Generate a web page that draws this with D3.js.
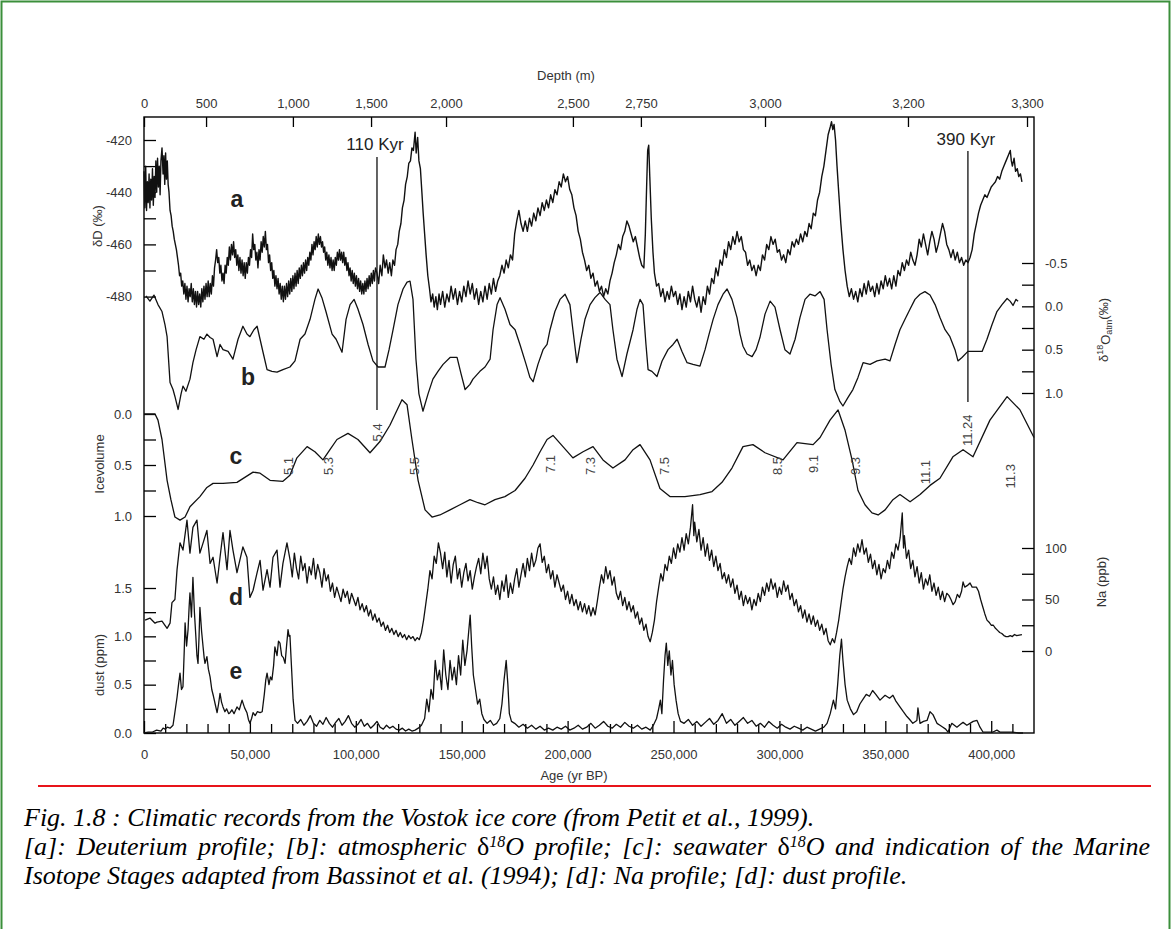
<!DOCTYPE html>
<html><head><meta charset="utf-8">
<script src="https://cdn.jsdelivr.net/npm/d3@7"></script>
<style>html,body{margin:0;padding:0;background:#fff}svg{display:block}</style>
</head><body>
<svg id="c" width="1172" height="929"></svg>
<script>
// ---------------- DATA (ages in kyr BP) ----------------
const deuterium = [[0,-432],[0.4,-446],[0.8,-430],[1.2,-447],[1.6,-436],[2,-444],[2.4,-433],[2.8,-446],[3.2,-435],[3.6,-443],[4,-431],[4.4,-445],[4.8,-434],[5.2,-442],[5.6,-428],[6,-440],[6.4,-427],[6.8,-438],[7.2,-430],[7.6,-441],[8,-428],[8.5,-423],[9,-433],[9.4,-426],[9.8,-437],[10.2,-425],[10.6,-435],[11,-428],[11.4,-437],[11.8,-440],[12.3,-447],[12.8,-449],[13.3,-453],[13.8,-455],[14.3,-458],[14.8,-460],[15.3,-462],[15.8,-465],[16.3,-468],[16.8,-472],[17.3,-471],[17.8,-476],[18.3,-474],[18.8,-479],[19.3,-475],[19.8,-481],[20.3,-476],[20.8,-482],[21.3,-477],[21.8,-480],[22.3,-475],[22.8,-482],[23.3,-477],[23.8,-483],[24.3,-478],[24.8,-484],[25.3,-478],[25.8,-483],[26.3,-479],[26.8,-484],[27.3,-477],[27.8,-482],[28.3,-476],[28.8,-481],[29.3,-475],[29.8,-480],[30.3,-474],[30.8,-480],[31.3,-475],[31.8,-479],[32.3,-472],[32.8,-476],[33.3,-469],[33.8,-466],[34.3,-462],[34.8,-467],[35.3,-465],[35.8,-471],[36.3,-468],[36.8,-474],[37.3,-471],[37.8,-475],[38.3,-468],[38.8,-471],[39.3,-465],[39.8,-468],[40.3,-461],[40.8,-466],[41.3,-460],[41.8,-464],[42.3,-459],[42.8,-465],[43.3,-462],[43.8,-468],[44.3,-464],[44.8,-470],[45.3,-465],[45.8,-471],[46.3,-466],[46.8,-472],[47.3,-467],[47.8,-473],[48.3,-467],[48.8,-471],[49.3,-465],[49.8,-468],[50.3,-462],[50.8,-465],[51.3,-456],[51.8,-462],[52.3,-460],[52.8,-466],[53.3,-463],[53.8,-469],[54.3,-462],[54.8,-466],[55.3,-459],[55.8,-463],[56.3,-457],[56.8,-461],[57.3,-455],[57.8,-462],[58.3,-460],[58.8,-467],[59.3,-464],[59.8,-470],[60.3,-467],[60.8,-473],[61.3,-470],[61.8,-476],[62.3,-472],[62.8,-477],[63.3,-473],[63.8,-479],[64.3,-475],[64.8,-481],[65.3,-476],[65.8,-482],[66.3,-476],[66.8,-481],[67.3,-475],[67.8,-480],[68.3,-474],[68.8,-479],[69.3,-473],[69.8,-478],[70.3,-472],[70.8,-477],[71.3,-471],[71.8,-476],[72.3,-470],[72.8,-475],[73.3,-469],[73.8,-473],[74.3,-468],[74.8,-472],[75.3,-467],[75.8,-471],[76.3,-466],[76.8,-470],[77.3,-465],[77.8,-468],[78.3,-463],[78.8,-466],[79.3,-460],[79.8,-464],[80.3,-459],[80.8,-462],[81.3,-457],[81.8,-461],[82.3,-456],[82.8,-460],[83.3,-457],[83.8,-461],[84.3,-459],[84.8,-463],[85.3,-461],[85.8,-466],[86.3,-463],[86.8,-468],[87.3,-464],[87.8,-469],[88.3,-465],[88.8,-470],[89.3,-466],[89.8,-470],[90.3,-465],[90.8,-468],[91.3,-463],[91.8,-466],[92.3,-462],[92.8,-466],[93.3,-463],[93.8,-467],[94.3,-463],[94.8,-468],[95.3,-465],[95.8,-470],[96.3,-467],[96.8,-472],[97.3,-469],[97.8,-474],[98.3,-470],[98.8,-475],[99.3,-471],[99.8,-476],[100.3,-472],[100.8,-477],[101.3,-473],[101.8,-478],[102.3,-474],[102.8,-479],[103.3,-475],[103.8,-479],[104.3,-474],[104.8,-478],[105.3,-473],[105.8,-477],[106.3,-472],[106.8,-476],[107.3,-471],[107.8,-475],[108.3,-470],[108.8,-474],[109.3,-469],[110,-471],[110.8,-475],[111.5,-468],[112.3,-472],[113,-464],[113.8,-469],[114.5,-466],[115.3,-471],[116,-467],[116.8,-472],[117.5,-466],[118.3,-468],[119,-462],[119.8,-460],[120.5,-455],[121.3,-452],[122,-446],[122.8,-443],[123.5,-437],[124.3,-434],[125,-429],[125.8,-428],[126.5,-423],[127.2,-424],[128,-417],[128.5,-425],[129.2,-419],[129.8,-428],[130.5,-431],[131.2,-440],[131.8,-448],[132.5,-456],[133.2,-464],[134,-472],[134.8,-477],[135.5,-482],[136.3,-479],[137,-484],[137.8,-480],[138.5,-485],[139.3,-479],[140,-483],[141,-478],[142,-484],[143,-479],[144,-482],[145,-476],[146,-481],[147,-477],[148,-483],[149,-478],[150,-482],[151,-476],[152,-480],[153,-474],[154,-479],[155,-475],[156,-481],[157,-477],[158,-483],[159,-478],[160,-482],[161,-476],[162,-481],[163,-475],[164,-479],[165,-473],[166,-478],[167,-474],[168,-472],[169,-468],[170,-471],[171,-466],[172,-469],[173,-464],[174,-466],[175,-456],[176,-451],[177,-447],[178,-452],[179,-455],[180,-451],[181,-455],[182,-450],[183,-453],[184,-448],[185,-451],[186,-446],[187,-449],[188,-444],[189,-447],[190,-443],[191,-446],[192,-441],[193,-444],[194,-439],[195,-441],[196,-436],[197,-438],[198,-433],[199,-436],[200,-434],[201,-439],[202,-441],[203,-446],[204,-449],[205,-455],[206,-458],[207,-463],[208,-466],[209,-470],[210,-468],[211,-473],[212,-471],[213,-476],[214,-474],[215,-478],[216,-476],[217,-480],[218,-477],[219,-479],[220,-474],[221,-471],[222,-467],[223,-464],[224,-460],[225,-462],[226,-457],[227,-455],[228,-451],[229,-453],[230,-456],[231,-459],[232,-457],[233,-461],[234,-465],[235,-468],[236,-469],[236.7,-456],[237.3,-438],[237.8,-424],[238.3,-422],[238.8,-434],[239.5,-450],[240.3,-463],[241,-471],[242,-476],[243,-475],[244,-480],[245,-477],[246,-482],[247,-478],[248,-481],[249,-476],[250,-480],[251,-478],[252,-483],[253,-479],[254,-485],[255,-480],[256,-484],[257,-478],[258,-482],[259,-476],[260,-481],[261,-484],[262,-480],[263,-486],[264,-480],[265,-483],[266,-476],[267,-479],[268,-473],[269,-475],[270,-469],[271,-472],[272,-466],[273,-468],[274,-462],[275,-465],[276,-459],[277,-462],[278,-457],[279,-460],[280,-455],[281,-459],[282,-457],[283,-462],[284,-463],[285,-468],[286,-466],[287,-470],[288,-468],[289,-472],[290,-468],[291,-470],[292,-464],[293,-466],[294,-460],[295,-462],[296,-457],[297,-460],[298,-458],[299,-463],[300,-462],[301,-466],[302,-464],[303,-467],[304,-462],[305,-464],[306,-459],[307,-461],[308,-458],[309,-460],[310,-456],[311,-459],[312,-455],[313,-457],[314,-452],[315,-454],[316,-448],[317,-449],[318,-443],[319,-440],[320,-434],[321,-430],[322,-424],[323,-418],[324,-415],[324.6,-413],[325.2,-416],[325.8,-414],[326.5,-420],[327.2,-430],[328,-440],[329,-452],[330,-462],[331,-470],[332,-476],[333,-480],[334,-477],[335,-481],[336,-478],[337,-482],[338,-477],[339,-480],[340,-475],[341,-479],[342,-474],[343,-478],[344,-476],[345,-480],[346,-475],[347,-479],[348,-474],[349,-477],[350,-472],[351,-476],[352,-473],[353,-477],[354,-472],[355,-476],[356,-470],[357,-472],[358,-467],[359,-470],[360,-466],[361,-468],[362,-463],[363,-466],[364,-468],[365,-464],[366,-458],[367,-461],[368,-456],[369,-460],[370,-464],[371,-459],[372,-455],[373,-458],[374,-463],[375,-460],[376,-456],[377,-452],[378,-455],[379,-460],[380,-462],[381,-465],[382,-462],[383,-466],[384,-463],[385,-467],[386,-465],[387,-468],[388,-466],[389,-467],[390,-465],[391,-462],[392,-456],[393,-452],[394,-448],[395,-445],[396,-443],[397,-441],[398,-442],[399,-440],[400,-438],[401,-437],[402,-436],[403,-434],[404,-435],[405,-432],[406,-430],[407,-428],[408,-426],[409,-424],[409.5,-428],[410,-430],[410.8,-427],[411.5,-432],[412.3,-431],[413,-434],[413.8,-433],[414.5,-436]];

const d18Oatm = [[0.9,-0.12],[2.8,-0.06],[4.7,-0.13],[6.6,-0.02],[8.5,0.06],[9.9,0.21],[10.9,0.35],[12.3,0.88],[13.7,0.96],[14.6,1.04],[16.1,1.19],[17.5,1.01],[18.4,0.92],[19.8,0.98],[21.7,0.84],[23.1,0.65],[24.6,0.50],[26.4,0.35],[28.3,0.38],[29.7,0.32],[31.2,0.36],[32.6,0.38],[34.5,0.58],[35.9,0.44],[37.3,0.50],[39.7,0.52],[42.0,0.61],[44.4,0.38],[46.7,0.23],[48.6,0.32],[50.0,0.35],[51.9,0.27],[53.4,0.23],[54.8,0.38],[56.2,0.53],[58.1,0.73],[60.4,0.75],[62.8,0.76],[65.6,0.73],[68.9,0.70],[71.3,0.63],[73.7,0.38],[76.0,0.32],[78.4,0.15],[80.7,-0.08],[82.2,-0.20],[84.0,-0.10],[85.9,0.06],[88.8,0.32],[90.7,0.38],[93.5,0.53],[95.4,0.15],[97.3,-0.02],[99.2,-0.08],[101.0,0.03],[103.4,0.21],[105.8,0.44],[108.1,0.63],[110.5,0.70],[113.8,0.70],[115.7,0.50],[117.6,0.27],[119.9,-0.02],[122.3,-0.20],[124.2,-0.28],[125.6,-0.29],[127.0,-0.08],[128.4,0.61],[129.8,1.01],[131.7,1.21],[134.1,1.01],[136.4,0.84],[138.8,0.75],[141.2,0.67],[144.5,0.59],[147.8,0.59],[149.7,0.78],[151.6,0.96],[153.9,0.90],[155.3,0.84],[158.6,0.75],[161.0,0.70],[163.4,0.61],[164.8,0.27],[166.7,-0.02],[168.1,-0.10],[170.4,0.03],[172.8,0.21],[175.2,0.27],[177.5,0.44],[180.4,0.67],[182.2,0.82],[183.7,0.87],[186.0,0.67],[188.4,0.50],[190.3,0.44],[191.7,0.27],[194.0,0.06],[196.4,-0.08],[198.8,-0.14],[201.1,-0.02],[202.5,0.27],[204.4,0.65],[206.3,0.38],[208.2,0.15],[210.6,-0.02],[212.9,-0.10],[215.3,-0.16],[217.7,-0.08],[220.0,-0.02],[221.4,0.27],[223.3,0.61],[225.7,0.81],[228.0,0.55],[230.9,0.27],[232.8,0.03],[234.2,-0.08],[235.6,-0.02],[237.0,0.44],[238.0,0.73],[239.8,0.75],[242.2,0.81],[244.6,0.63],[247.4,0.50],[249.8,0.44],[251.7,0.38],[254.0,0.52],[256.4,0.65],[259.2,0.67],[262.5,0.69],[264.9,0.50],[266.8,0.32],[268.7,0.15],[271.0,-0.02],[273.4,-0.14],[275.3,-0.20],[277.6,-0.08],[280.0,0.13],[281.4,0.32],[282.8,0.46],[284.7,0.55],[287.1,0.58],[289.0,0.50],[290.8,0.36],[293.2,0.09],[295.6,-0.06],[297.9,0.01],[300.3,0.27],[302.6,0.50],[305.0,0.55],[307.4,0.38],[309.7,0.13],[312.1,-0.08],[314.4,-0.14],[316.8,-0.12],[319.2,-0.17],[321.1,-0.08],[322.5,0.27],[324.4,0.67],[326.2,0.96],[328.6,1.10],[330.0,1.15],[332.4,1.05],[334.7,0.96],[337.1,0.82],[339.5,0.65],[342.8,0.67],[346.1,0.63],[349.9,0.61],[352.2,0.63],[354.6,0.44],[356.9,0.27],[359.3,0.15],[361.7,0.03],[364.0,-0.08],[366.4,-0.14],[368.7,-0.17],[371.1,-0.13],[373.5,-0.02],[375.8,0.13],[378.2,0.27],[380.5,0.35],[382.9,0.50],[384.3,0.63],[386.2,0.59],[389.0,0.52],[392.4,0.52],[395.7,0.52],[398.0,0.38],[400.4,0.21],[402.7,0.06],[405.1,-0.02],[407.5,-0.09],[408.9,-0.06],[410.3,-0.01],[411.7,-0.08],[412.7,-0.06]];

const iceVolume = [[0,0],[2.8,0],[5.2,0],[6.6,0.06],[8.5,0.25],[10.9,0.65],[12.7,0.84],[14.6,1.01],[17.0,1.04],[19.4,1.01],[21.7,0.91],[26.4,0.81],[29.7,0.72],[32.6,0.68],[37.3,0.68],[43.9,0.67],[51.5,0.57],[54.8,0.58],[59.5,0.65],[65.6,0.66],[68.9,0.60],[72.2,0.43],[77.0,0.32],[80.7,0.37],[84.5,0.45],[87.8,0.35],[91.1,0.25],[96.3,0.19],[101,0.25],[106.7,0.38],[111.4,0.27],[116.1,0.11],[121.8,-0.14],[124.2,-0.09],[126.5,0.25],[129.4,0.65],[132.7,0.94],[136,1.01],[139.7,0.99],[144.5,0.94],[149.2,0.89],[153.9,0.84],[157.7,0.87],[161,0.89],[165.7,0.84],[170.4,0.81],[175.2,0.75],[179.9,0.63],[183.7,0.50],[187,0.37],[190.3,0.25],[193.1,0.21],[197.8,0.32],[202.5,0.43],[207.3,0.37],[212,0.32],[216.7,0.45],[221.4,0.53],[227.1,0.45],[230.9,0.35],[234.2,0.30],[238.9,0.45],[243.6,0.73],[248.3,0.81],[255.4,0.81],[262.5,0.79],[268.2,0.76],[272.9,0.67],[277.6,0.53],[282.8,0.32],[287.5,0.30],[293.2,0.38],[301.7,0.45],[308.3,0.28],[315.9,0.30],[319.2,0.23],[323.9,0.06],[327.7,-0.04],[331,0.16],[334.3,0.45],[337.1,0.75],[340.4,0.89],[343.7,0.97],[346.6,0.99],[349.9,0.94],[353.6,0.84],[356.9,0.79],[361.7,0.86],[366.4,0.79],[371.1,0.70],[375.8,0.63],[381.9,0.42],[386.7,0.35],[391.4,0.42],[399.4,0.06],[407.5,-0.17],[413.6,-0.04],[420.2,0.23]];

const sodium = [[0.5,30],[2.8,32],[5.2,27],[6.1,28],[8.5,29],[10.9,22],[12.3,27],[13.2,47],[14.6,50],[15.6,79],[17,105],[18.4,98],[20.3,127],[21.7,95],[23.1,120],[25,127],[26.4,95],[27.9,105],[29.7,117],[31.2,85],[32.6,91],[34.5,66],[35.9,91],[37.3,115],[39.2,79],[40.6,117],[42,98],[43.9,76],[46.7,101],[48.6,91],[50,52],[51.5,59],[53.4,76],[54.8,88],[56.2,59],[58.1,79],[59.5,62],[60.9,91],[62.8,98],[64.2,62],[65.6,85],[67.5,105],[69,88],[70,72],[71,95],[72,80],[73,70],[74,92],[75,78],[76,85],[77,66],[78,82],[79,74],[80,90],[81,70],[82,84],[83,76],[84,62],[85,80],[86,68],[87,74],[88,58],[89,66],[90,52],[91,62],[92,55],[93,48],[94,60],[95,52],[96,58],[97,46],[98,56],[99,50],[100,44],[101,52],[102,40],[103,46],[104,38],[105,44],[106,34],[107,40],[108,30],[109,36],[110,28],[111,32],[112,24],[113,28],[114,20],[115,25],[116,18],[117,22],[118,16],[119,20],[120,14],[121,18],[122,13],[123,16],[124,11],[125,15],[126,12],[127,14],[128,10],[129,13],[130,11],[131,18],[132,30],[133,45],[134,60],[135,78],[136,70],[137,92],[138,85],[139,105],[140,95],[141,80],[142,96],[143,72],[144,88],[145,66],[146,84],[147,92],[148,70],[149,80],[150,62],[151,76],[152,85],[153,68],[154,78],[155,60],[156,72],[157,82],[158,90],[159,75],[160,95],[161,80],[162,92],[163,70],[164,60],[165,72],[166,55],[167,64],[168,50],[169,68],[170,58],[171,74],[172,52],[173,66],[174,56],[175,70],[176,80],[177,62],[178,74],[179,85],[180,72],[181,90],[182,78],[183,95],[184,82],[185,88],[186,100],[187,104],[188,86],[189,92],[190,76],[191,84],[192,70],[193,78],[194,62],[195,74],[196,66],[197,58],[198,64],[199,50],[200,58],[201,46],[202,55],[203,44],[204,50],[205,40],[206,48],[207,38],[208,46],[209,36],[210,44],[211,34],[212,42],[213,35],[214,48],[215,62],[216,74],[217,66],[218,82],[219,70],[220,78],[221,64],[222,72],[223,56],[224,50],[225,58],[226,44],[227,52],[228,40],[229,48],[230,38],[231,44],[232,32],[233,38],[234,26],[235,32],[236,20],[237,26],[238,14],[239,9],[240,18],[241,30],[242,48],[243,62],[244,75],[245,68],[246,84],[247,78],[248,92],[249,85],[250,100],[251,90],[252,104],[253,96],[254,110],[255,98],[256,114],[257,104],[258,120],[259,142],[259.6,112],[260,125],[261,106],[262,118],[263,98],[264,110],[265,92],[266,104],[267,88],[268,98],[269,82],[270,92],[271,78],[272,85],[273,70],[274,76],[275,66],[276,74],[277,62],[278,70],[279,56],[280,64],[281,50],[282,58],[283,44],[284,54],[285,46],[286,52],[287,40],[288,50],[289,44],[290,56],[291,48],[292,62],[293,54],[294,66],[295,58],[296,70],[297,60],[298,66],[299,52],[300,62],[301,55],[302,68],[303,58],[304,64],[305,50],[306,56],[307,44],[308,50],[309,38],[310,44],[311,32],[312,40],[313,28],[314,36],[315,26],[316,34],[317,24],[318,30],[319,20],[320,26],[321,16],[322,22],[323,10],[324,6],[325,12],[326,8],[327,18],[328,30],[329,45],[330,60],[331,72],[332,82],[333,90],[334,84],[335,100],[336,92],[337,104],[338,96],[339,108],[340,94],[341,100],[342,86],[343,94],[344,80],[345,88],[346,74],[347,84],[348,70],[349,80],[350,76],[351,88],[352,80],[353,96],[354,90],[355,104],[356,98],[357,110],[358,134],[358.6,100],[359,112],[360,90],[361,98],[362,80],[363,88],[364,72],[365,82],[366,66],[367,76],[368,60],[369,70],[370,64],[371,74],[372,58],[373,66],[374,54],[375,62],[376,50],[377,58],[378,48],[379,56],[380,54],[381,50],[382,45],[383,48],[384,55],[385,52],[386,58],[386.7,67],[387.5,62],[389,64],[390,66],[391,62],[393,62],[394,58],[395,50],[396,43],[397,36],[398,30],[399,28],[400,25],[401,25],[402,22],[403,20],[404,18],[405,17],[406,15],[407,14],[408,14],[409,15],[410,14],[411,16],[412,15],[414.5,16]];

const dust = [[0,0],[2,0.01],[4,0.01],[6,0.03],[8,0.02],[9,0.05],[10,0.04],[11,0.06],[12.3,0.05],[13.7,0.08],[14.5,0.2],[15.6,0.37],[16.3,0.5],[17,0.62],[17.7,0.45],[18.4,0.48],[19,0.85],[19.4,1.14],[20.1,0.9],[20.8,1.07],[21.3,1.3],[21.7,1.45],[22.4,1.2],[23.1,1.61],[23.8,1.25],[24.5,0.99],[25,0.8],[25.5,0.72],[26,1.0],[26.4,1.3],[27.2,1.05],[27.9,0.89],[28.4,0.78],[28.8,0.72],[29.7,0.79],[30.4,0.66],[31.2,0.58],[32,0.45],[32.8,0.38],[33.6,0.3],[34.5,0.21],[35.2,0.3],[35.9,0.41],[36.6,0.32],[37.3,0.27],[38.2,0.22],[39,0.25],[40,0.2],[40.6,0.21],[41.5,0.24],[42.5,0.2],[43.9,0.27],[45,0.24],[46.3,0.34],[47.5,0.26],[48.6,0.21],[49.3,0.14],[50,0.10],[50.8,0.15],[51.5,0.21],[52.5,0.18],[53.5,0.22],[54.8,0.21],[55.8,0.22],[56.8,0.4],[57.5,0.55],[58.1,0.62],[59,0.5],[59.7,0.58],[60.4,0.55],[61.2,0.7],[61.8,0.89],[62.8,0.8],[63.5,0.95],[64.2,0.93],[65,0.8],[65.8,0.78],[66.6,0.72],[67.3,0.9],[68,1.07],[68.5,1.0],[68.9,1.01],[69.6,0.7],[70.4,0.35],[71.3,0.13],[72.5,0.1],[74,0.14],[75.5,0.08],[77,0.12],[78.5,0.18],[80,0.1],[81.5,0.07],[83,0.13],[84.5,0.09],[86,0.16],[87.5,0.1],[89,0.06],[90.5,0.11],[92,0.15],[93.5,0.08],[95,0.12],[96.5,0.18],[98,0.1],[99.5,0.06],[101,0.09],[102.5,0.14],[104,0.07],[105.5,0.1],[107,0.05],[108.5,0.08],[110,0.12],[111.5,0.06],[113,0.04],[114.5,0.08],[116,0.05],[117.5,0.07],[119,0.04],[120.5,0.03],[122,0.05],[123.5,0.02],[125,0.04],[126.5,0.02],[128,0.03],[129.5,0.05],[131,0.08],[132.5,0.15],[133.5,0.35],[134.5,0.22],[135.5,0.45],[136.5,0.35],[137.5,0.75],[138.5,0.55],[139.5,0.65],[140.5,0.45],[141.5,0.86],[142.5,0.6],[143.5,0.45],[144.5,0.75],[145.5,0.55],[146.5,0.68],[147.5,0.5],[148.5,0.8],[149.5,0.6],[150.5,0.96],[151.5,0.7],[152.5,0.85],[153.3,1.05],[154,1.22],[154.7,0.9],[155.5,0.6],[156.5,0.45],[157.5,0.3],[158.5,0.35],[159.5,0.2],[160.5,0.14],[162,0.1],[163.5,0.13],[165,0.08],[166.5,0.1],[168,0.15],[169,0.3],[170,0.55],[171,0.75],[171.8,0.5],[172.5,0.2],[173.5,0.12],[175,0.1],[177,0.06],[179,0.09],[181,0.05],[183,0.08],[185,0.04],[187,0.07],[189,0.03],[191,0.05],[193,0.03],[195,0.06],[197,0.04],[199,0.07],[201,0.03],[203,0.05],[205,0.08],[207,0.04],[209,0.06],[211,0.1],[213,0.05],[215,0.08],[217,0.12],[219,0.07],[221,0.05],[223,0.09],[225,0.06],[227,0.11],[229,0.07],[231,0.05],[233,0.08],[235,0.04],[237,0.06],[239,0.03],[240.5,0.08],[242,0.15],[243,0.25],[243.8,0.34],[244.5,0.2],[245.3,0.55],[246,0.8],[246.6,0.93],[247.3,0.7],[248,0.85],[248.8,0.6],[249.5,0.75],[250.3,0.5],[251.2,0.34],[252.2,0.2],[253.3,0.12],[255,0.1],[257,0.14],[259,0.08],[261,0.12],[263,0.07],[265,0.11],[267,0.15],[269,0.09],[271,0.13],[273,0.2],[275,0.1],[277,0.14],[279,0.08],[281,0.12],[283,0.16],[285,0.1],[287,0.13],[289,0.07],[291,0.1],[293,0.06],[295,0.12],[297,0.08],[299,0.05],[301,0.09],[303,0.06],[305,0.04],[307,0.07],[309,0.05],[311,0.03],[313,0.06],[315,0.04],[317,0.02],[319,0.04],[321,0.06],[322.5,0.1],[324,0.2],[325.5,0.34],[326.5,0.25],[327.5,0.5],[328.5,0.8],[329.3,0.97],[330,0.75],[331,0.5],[332,0.34],[333.5,0.25],[335,0.19],[336.5,0.22],[338,0.3],[339.5,0.35],[341,0.4],[342.5,0.38],[344,0.44],[345.5,0.4],[347.5,0.34],[349.9,0.39],[352,0.36],[353.6,0.39],[355,0.33],[356.9,0.27],[358.5,0.22],[360.2,0.17],[361.5,0.14],[363,0.10],[364.9,0.13],[365.4,0.26],[366.4,0.10],[368,0.12],[369.7,0.13],[371.1,0.22],[372.5,0.19],[374.4,0.10],[375.8,0.08],[377.2,0.06],[378.5,0.04],[379.6,0.01],[381.4,0.10],[383.8,0.06],[385.5,0.09],[386.7,0.11],[388.5,0.08],[390,0.10],[391.5,0.12],[393.3,0.13],[394.7,0.06],[396.1,0.01],[398,0.01],[400.8,0.01],[402.7,0.03],[404.1,0.01],[407,0.01],[410,0.01],[413,0.0],[415,0.0]];

// axis ticks
const ageTicks = [0,50000,100000,150000,200000,250000,300000,350000,400000];
const ageMinor = [10000,20000,30000,40000,60000,70000,80000,90000,110000,120000,130000,140000,160000,170000,180000,190000,210000,220000,230000,240000,260000,270000,280000,290000,310000,320000,330000,340000,360000,370000,380000,390000,410000];
const depthLabels = [0,500,1000,1500,2000,2500,2750,3000,3200,3300];
const depthAges = [0,29300,70300,107200,142600,202500,234600,293200,360700,416900];
const dDTicks = [-420,-440,-460,-480], dDMinor = [-430,-450,-470];
const iceTicks = [0,0.5,1.0], iceMinor = [0.25,0.75];
const dustTicks = [0,0.5,1.0,1.5], dustMinor = [0.25,0.75,1.25];
const o18Ticks = [-0.5,0,0.5,1.0], o18Minor = [-0.25,0.25,0.75];
const naTicks = [0,50,100], naMinor = [25,75];
// annotations
const misLabels = ["5.1","5.3","5.4","5.5","7.1","7.3","7.5","8.5","9.1","9.3","11.1","11.24","11.3"];
const misAges   = [68,87,110,127.5,192,210.6,245.5,299,316,335.7,369,389,409];
const misLevel  = [0.51,0.51,0.18,0.51,0.49,0.51,0.51,0.51,0.49,0.51,0.57,0.16,0.61];
const markerAges = [110,389], markerLabels = ["110 Kyr","390 Kyr"];

// ---------------- DRAWING ----------------
const FONT = "'Liberation Sans', Arial, sans-serif";
const svg = d3.select("#c");
const L=144, R=1034, T=117, B=733;
const x = d3.scaleLinear().domain([0,420200]).range([L,R]);
const yD = d3.scaleLinear().domain([-420,-480]).range([140,296.6]);
const yO = d3.scaleLinear().domain([-0.5,1.0]).range([263,393]);
const yI = d3.scaleLinear().domain([0,1]).range([414,516]);
const yN = d3.scaleLinear().domain([0,100]).range([651,548]);
const yU = d3.scaleLinear().domain([0,1.5]).range([733,588]);

svg.append("rect").attr("x",1.5).attr("y",1.5).attr("width",1168).attr("height",940)
  .attr("fill","none").attr("stroke","#3b8f3b").attr("stroke-width",2);

function style(g){
  g.select(".domain").remove();
  g.selectAll("line").attr("stroke","#000").attr("stroke-width",1.3);
  g.selectAll("text").attr("font-family",FONT).attr("font-size",13).attr("fill","#333");
}
function axis(gen, tr){ svg.append("g").attr("transform",tr).call(gen).call(style); }
const f1 = d => d.toFixed(1), fs = d => String(d), fc = d3.format(",");

[[yD,dDTicks,dDMinor,fs],[yI,iceTicks,iceMinor,f1],[yU,dustTicks,dustMinor,f1]].forEach(([s,tk,mn,f])=>{
  axis(d3.axisLeft(s).tickValues(tk).tickFormat(f).tickSizeInner(-12).tickSizeOuter(0).tickPadding(12), `translate(${L},0)`);
  axis(d3.axisLeft(s).tickValues(mn).tickFormat("").tickSizeInner(-12).tickSizeOuter(0), `translate(${L},0)`);
});
[[yO,o18Ticks,o18Minor,f1],[yN,naTicks,naMinor,fs]].forEach(([s,tk,mn,f])=>{
  axis(d3.axisRight(s).tickValues(tk).tickFormat(f).tickSizeInner(-12).tickSizeOuter(0).tickPadding(11), `translate(${R},0)`);
  axis(d3.axisRight(s).tickValues(mn).tickFormat("").tickSizeInner(-12).tickSizeOuter(0), `translate(${R},0)`);
});
axis(d3.axisBottom(x).tickValues(ageTicks).tickFormat(fc).tickSizeInner(-12).tickSizeOuter(0).tickPadding(17), `translate(0,${B})`);
axis(d3.axisBottom(x).tickValues(ageMinor).tickFormat("").tickSizeInner(-9).tickSizeOuter(0), `translate(0,${B})`);
axis(d3.axisTop(x).tickValues(depthAges).tickFormat((d,i)=>fc(depthLabels[i])).tickSizeInner(-10).tickSizeOuter(0).tickPadding(9), `translate(0,${T})`);

svg.append("rect").attr("x",L).attr("y",T).attr("width",R-L).attr("height",B-T)
  .attr("fill","none").attr("stroke","#000").attr("stroke-width",1.4);

const mk = ys => d3.line().x(d=>x(d[0]*1000)).y(d=>ys(d[1]));
[[deuterium,yD,1.4],[d18Oatm,yO,1.3],[iceVolume,yI,1.3],[sodium,yN,1.3],[dust,yU,1.3]].forEach(([data,s,w])=>{
  svg.append("path").datum(data).attr("d",mk(s)).attr("fill","none").attr("stroke","#111").attr("stroke-width",w).attr("stroke-linejoin","round");
});

const lineTop = [157,151], lineBot = [410,402], labY = [150,145];
markerAges.forEach((a,i)=>{
  svg.append("line").attr("x1",x(a*1000)).attr("x2",x(a*1000)).attr("y1",lineTop[i]).attr("y2",lineBot[i]).attr("stroke","#111").attr("stroke-width",1.3);
  svg.append("text").attr("x",x(a*1000)-2).attr("y",labY[i]).attr("text-anchor","middle")
    .attr("font-family",FONT).attr("font-size",17).attr("fill","#222").text(markerLabels[i]);
});

misLabels.forEach((t,i)=>{
  const px = x(misAges[i]*1000), py = yI(misLevel[i]);
  svg.append("text").attr("transform",`translate(${px},${py}) rotate(-90)`).attr("text-anchor","middle").attr("dy","0.35em")
    .attr("font-family",FONT).attr("font-size",13).attr("fill","#444").text(t);
});

[["a",237,207],["b",248,385],["c",236,464],["d",236,605],["e",236,679]].forEach(([t,px,py])=>{
  svg.append("text").attr("x",px).attr("y",py).attr("text-anchor","middle").attr("font-family",FONT)
    .attr("font-size",23).attr("font-weight","bold").attr("fill","#222").text(t);
});

function vtitle(px,py,build){
  const t = svg.append("text").attr("transform",`translate(${px},${py}) rotate(-90)`).attr("text-anchor","middle")
    .attr("font-family",FONT).attr("font-size",13).attr("fill","#333").attr("dy","0.35em");
  build(t);
}
vtitle(97,226,t=>t.text("δD (‰)"));
vtitle(99,464,t=>t.text("Icevolume"));
vtitle(99,665,t=>t.text("dust (ppm)"));
vtitle(1103,330,t=>{ t.append("tspan").text("δ"); t.append("tspan").attr("font-size",9).attr("dy","-0.5em").text("18");
  t.append("tspan").attr("dy","0.5em").text("O"); t.append("tspan").attr("font-size",9).attr("dy","0.3em").text("atm");
  t.append("tspan").attr("dy","-0.3em").text("(‰)"); });
vtitle(1101,582,t=>t.text("Na (ppb)"));
svg.append("text").attr("x",566).attr("y",80).attr("text-anchor","middle").attr("font-family",FONT).attr("font-size",13).attr("fill","#333").text("Depth (m)");
svg.append("text").attr("x",574).attr("y",780).attr("text-anchor","middle").attr("font-family",FONT).attr("font-size",13).attr("fill","#333").text("Age (yr BP)");

svg.append("line").attr("x1",38).attr("x2",1151).attr("y1",786).attr("y2",786).attr("stroke","#e8141a").attr("stroke-width",2);

// caption (line 2 justified to the full width like the source)
const SERIF = "'Liberation Serif','Times New Roman',serif";
const cap = svg.append("g").attr("font-family",SERIF).attr("font-style","italic").attr("font-size",26).attr("fill","#000");
cap.append("text").attr("x",24).attr("y",826).text("Fig. 1.8 : Climatic records from the Vostok ice core (from Petit et al., 1999).");
const l2 = cap.append("text").attr("x",24).attr("y",855);
l2.append("tspan").text("[a]: Deuterium profile; [b]: atmospheric ");
l2.append("tspan").attr("font-style","normal").text("δ");
l2.append("tspan").attr("font-size",16).attr("dy",-8).text("18");
l2.append("tspan").attr("dy",8).text("O profile; [c]: seawater ");
l2.append("tspan").attr("font-style","normal").text("δ");
l2.append("tspan").attr("font-size",16).attr("dy",-8).text("18");
l2.append("tspan").attr("dy",8).text("O and indication of the Marine");
const nat = l2.node().getComputedTextLength();
const nSpaces = (l2.text().match(/ /g) || []).length;
if (nat < 1126) l2.attr("word-spacing", ((1126 - nat) / nSpaces).toFixed(2));
cap.append("text").attr("x",24).attr("y",884).text("Isotope Stages adapted from Bassinot et al. (1994); [d]: Na profile; [d]: dust profile.");
</script>
</body></html>
